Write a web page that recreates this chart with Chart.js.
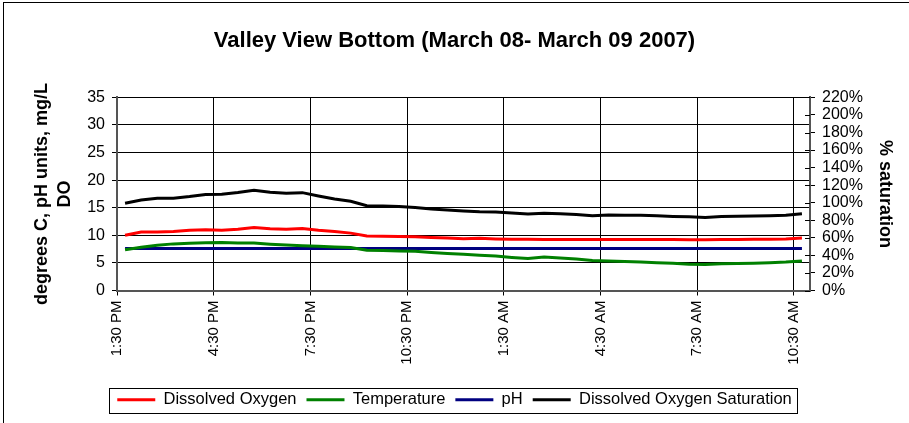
<!DOCTYPE html>
<html>
<head>
<meta charset="utf-8">
<script src="https://cdn.jsdelivr.net/npm/chart.js@4"></script>
<style>
  body { margin: 0; background: #fff; }
  #wrap { position: relative; width: 909px; height: 423px; }
  #frame { position: absolute; left: 3px; top: 2px; width: 920px; height: 440px;
           border-left: 1px solid #000; border-top: 1px solid #000; pointer-events: none; }
</style>
</head>
<body>
<div id="wrap">
  <canvas id="myChart"></canvas>
  <div id="frame"></div>
</div>
<script>
var ctx = document.getElementById('myChart');

// sample times (half-hourly, March 08 1:45 PM to March 09 10:45 AM)
var times = ['13:45', '14:15', '14:45', '15:15', '15:45', '16:15', '16:45', '17:15', '17:45', '18:15',
  '18:45', '19:15', '19:45', '20:15', '20:45', '21:15', '21:45', '22:15', '22:45', '23:15',
  '23:45', '00:15', '00:45', '01:15', '01:45', '02:15', '02:45', '03:15', '03:45', '04:15',
  '04:45', '05:15', '05:45', '06:15', '06:45', '07:15', '07:45', '08:15', '08:45', '09:15',
  '09:45', '10:15', '10:45'];

var tickLabels = ['1:30 PM', '4:30 PM', '7:30 PM', '10:30 PM', '1:30 AM', '4:30 AM', '7:30 AM', '10:30 AM'];

var dissolvedOxygen = [10.0, 10.6, 10.6, 10.7, 10.9, 11.0, 10.9, 11.1, 11.4, 11.2,
  11.1, 11.25, 10.9, 10.7, 10.4, 9.9, 9.85, 9.8, 9.75, 9.6,
  9.5, 9.4, 9.45, 9.35, 9.3, 9.3, 9.25, 9.25, 9.25, 9.25,
  9.25, 9.25, 9.25, 9.25, 9.25, 9.2, 9.2, 9.25, 9.25, 9.3,
  9.3, 9.35, 9.5];

var temperature = [7.4, 7.85, 8.2, 8.45, 8.55, 8.65, 8.7, 8.6, 8.6, 8.4,
  8.25, 8.1, 8.0, 7.9, 7.8, 7.3, 7.25, 7.15, 7.1, 6.9,
  6.7, 6.55, 6.4, 6.25, 6.0, 5.8, 6.05, 5.9, 5.7, 5.45,
  5.35, 5.25, 5.15, 5.05, 4.95, 4.75, 4.7, 4.85, 4.9, 4.95,
  5.05, 5.15, 5.35];

var pH = [7.6, 7.6, 7.6, 7.6, 7.6, 7.6, 7.6, 7.6, 7.6, 7.6,
  7.6, 7.6, 7.6, 7.6, 7.6, 7.6, 7.6, 7.6, 7.6, 7.6,
  7.6, 7.6, 7.6, 7.6, 7.6, 7.6, 7.6, 7.6, 7.6, 7.6,
  7.6, 7.6, 7.6, 7.6, 7.6, 7.6, 7.6, 7.6, 7.6, 7.6,
  7.6, 7.6, 7.6];

var doSaturation = [99.4, 103, 105, 105, 107, 109.5, 109.7, 111.7, 114.2, 112,
  110.8, 111.5, 107.7, 104.3, 101.6, 96.6, 96.3, 95.7, 94.5, 92.8,
  91.7, 90.5, 89.7, 89.4, 88.2, 87.1, 87.9, 87.4, 86.7, 85.1,
  85.9, 85.6, 85.6, 85.1, 84.4, 83.9, 83.3, 84.4, 84.6, 84.8,
  85.1, 85.6, 87.4];

// hours after 1:30 PM
function hoursOf(t) {
  var p = t.split(':');
  var m = parseInt(p[0], 10) * 60 + parseInt(p[1], 10);
  return ((m - 810 + 1440) % 1440) / 60;
}

function pts(values) {
  return values.map(function (v, i) { return { x: hoursOf(times[i]), y: v }; });
}

Chart.defaults.font.family = "'Liberation Sans', Arial, sans-serif";
Chart.defaults.color = '#000';

// box round the legend + the inner half of the right axis tick marks
var extras = {
  id: 'extras',
  afterDraw: function (chart) {
    var c = chart.ctx;
    c.save();
    c.strokeStyle = '#000';
    c.lineWidth = 1;

    var y2 = chart.scales.y2;
    y2.ticks.forEach(function (t) {
      var py = Math.round(y2.getPixelForValue(t.value)) + 0.5;
      c.beginPath();
      c.moveTo(y2.left - 5, py);
      c.lineTo(y2.left, py);
      c.stroke();
    });

    var boxes = chart.legend.legendHitBoxes;
    if (boxes && boxes.length) {
      var l = Math.min.apply(null, boxes.map(function (b) { return b.left; })) - 8;
      var r = Math.max.apply(null, boxes.map(function (b) { return b.left + b.width; })) + 6;
      var t = boxes[0].top - 4;
      var h = boxes[0].height + 8;
      c.strokeRect(Math.round(l) + 0.5, Math.round(t) + 0.5, Math.round(r - l), Math.round(h));
    }
    c.restore();
  }
};

var myChart = new Chart(ctx, {
  type: 'line',
  data: {
    datasets: [{
      label: 'Dissolved Oxygen',
      data: pts(dissolvedOxygen),
      borderColor: '#ff0000',
      backgroundColor: '#ff0000',
      borderWidth: 3,
      yAxisID: 'y'
    }, {
      label: 'Temperature',
      data: pts(temperature),
      borderColor: '#008000',
      backgroundColor: '#008000',
      borderWidth: 3,
      yAxisID: 'y'
    }, {
      label: 'pH',
      data: pts(pH),
      borderColor: '#000080',
      backgroundColor: '#000080',
      borderWidth: 3,
      yAxisID: 'y'
    }, {
      label: 'Dissolved Oxygen Saturation',
      data: pts(doSaturation),
      borderColor: '#000000',
      backgroundColor: '#000000',
      borderWidth: 3,
      yAxisID: 'y2'
    }]
  },
  options: {
    maintainAspectRatio: false,
    animation: false,
    elements: {
      line: { borderWidth: 3, tension: 0 },
      point: { radius: 0 }
    },
    layout: { padding: { bottom: 5 } },
    plugins: {
      title: {
        display: true,
        text: 'Valley View Bottom (March 08- March 09 2007)',
        font: { size: 22, weight: 'bold' },
        padding: { top: 28, bottom: 43 }
      },
      legend: {
        position: 'bottom',
        labels: {
          usePointStyle: true,
          pointStyle: 'line',
          pointStyleWidth: 38,
          font: { size: 16.5 },
          padding: 10
        }
      },
      tooltip: { enabled: false }
    },
    scales: {
      x: {
        type: 'linear',
        min: 0,
        max: 21.5,
        afterFit: function (s) { s.height = 91; },
        ticks: {
          stepSize: 3,
          includeBounds: false,
          minRotation: 90,
          maxRotation: 90,
          autoSkip: false,
          padding: 5,
          font: { size: 15 },
          callback: function (v) { return tickLabels[v / 3]; }
        },
        grid: { color: '#000', lineWidth: 1, tickLength: 5 },
        border: { color: '#555', width: 2 }
      },
      y: {
        position: 'left',
        min: 0,
        max: 35,
        afterFit: function (s) { s.width = 117; },
        ticks: { stepSize: 5, padding: 7, font: { size: 16 } },
        grid: { color: '#000', lineWidth: 1, tickLength: 5 },
        border: { color: '#555', width: 2 },
        title: {
          display: true,
          text: ['degrees C, pH units, mg/L', 'DO'],
          font: { size: 18, weight: 'bold', lineHeight: 1.3 },
          padding: { top: 30, bottom: 0 }
        }
      },
      y2: {
        position: 'right',
        min: 0,
        max: 220,
        afterFit: function (s) { s.width = 99; },
        ticks: {
          stepSize: 20,
          autoSkip: false,
          padding: 7,
          font: { size: 16 },
          callback: function (v) { return v + '%'; }
        },
        grid: { drawOnChartArea: false, color: '#000', tickLength: 5 },
        border: { color: '#555', width: 2 },
        title: {
          display: true,
          text: '% saturation',
          font: { size: 18, weight: 'bold', lineHeight: 1.3 },
          padding: { top: 12, bottom: 0 }
        }
      }
    }
  },
  plugins: [extras]
});
</script>
</body>
</html>
